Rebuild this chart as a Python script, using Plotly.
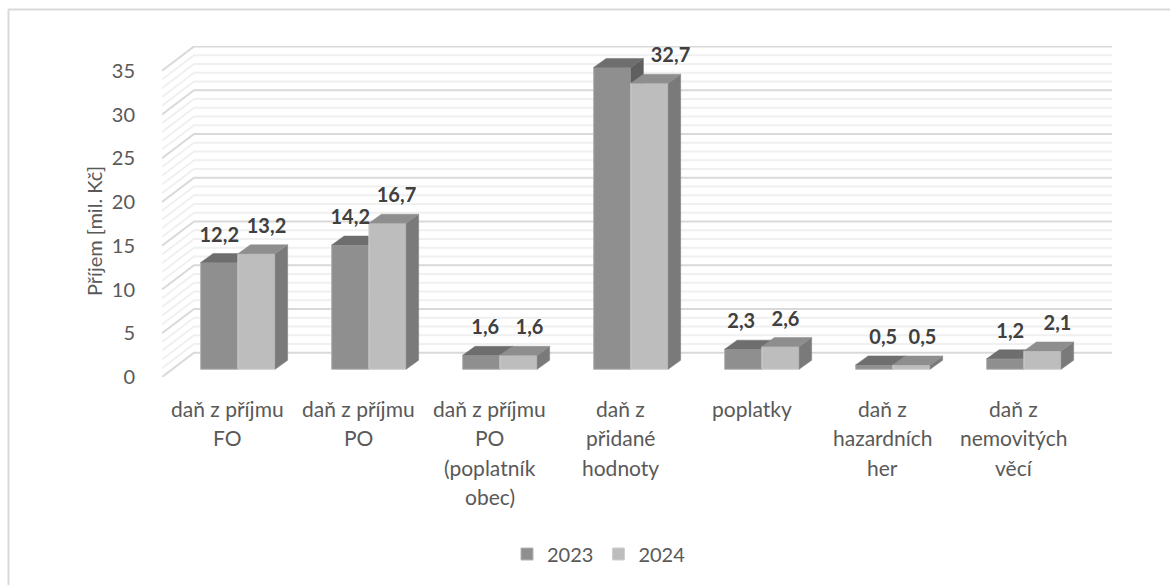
import plotly.graph_objects as go

# --- data -------------------------------------------------------------
categories = [
    ["daň z příjmu", "FO"],
    ["daň z příjmu", "PO"],
    ["daň z příjmu", "PO", "(poplatník", "obec)"],
    ["daň z", "přidané", "hodnoty"],
    ["poplatky"],
    ["daň z", "hazardních", "her"],
    ["daň z", "nemovitých", "věcí"],
]
series_names = ["2023", "2024"]
values_2023 = [12.2, 14.2, 1.6, 34.5, 2.3, 0.5, 1.2]
values_2024 = [13.2, 16.7, 1.6, 32.7, 2.6, 0.5, 2.1]
y_ticks = [0, 5, 10, 15, 20, 25, 30, 35]

# --- geometry (pixels of the chart, converted to axis units) ----------
W, H = 1170, 585
L, R, T, B = 162, 1112, 46, 377      # plot box
STEP = 131.0                         # px per category
PXV = 8.75                           # px per value unit
X0 = 227.5                           # px of category 0
BAR_W = 37.25 / STEP
C23 = (219.25 - X0) / STEP
C24 = (256.5 - X0) / STEP
DX = 12.5 / STEP                     # bar depth
DY = 9.0 / PXV
WALL_DX = 32 / STEP                  # floor depth
WALL_DY = 24.3 / PXV
BAR_ZERO = (377 - 369.3) / PXV       # bar baseline above the front axis zero

def px(x):
    return (x - L) / (R - L)

def py(y):
    return (B - y) / (B - T)

x_range = [(L - X0) / STEP, (R - X0) / STEP]
y_range_front = [0, (B - T) / PXV]
y_range_bars = [-BAR_ZERO, (B - T) / PXV - BAR_ZERO]

COL_FRONT = ["#8f8f8f", "#bdbdbd"]
COL_TOP = ["#6e6e6e", "#8e8e8e"]
COL_SIDE = ["#5f5f5f", "#7a7a7a"]
EDGE = ["#b4b4b4", "#cfcfcf"]
TXT = "#595959"
LBL = "#404040"
FONT = "Lato"

label_shift_px = [
    [0, 0, 4, 0, -2, 9, 5],
    [10, 9, 11, 21, 5, 11, 15],
]

fig = go.Figure()

# --- walls ------------------------------------------------------------
for v in range(0, 36):
    major = v % 5 == 0
    fig.add_trace(go.Scatter(
        x=[x_range[0], x_range[0] + WALL_DX, x_range[1]],
        y=[v, v + WALL_DY, v + WALL_DY],
        mode="lines", showlegend=False, hoverinfo="skip",
        line=dict(color="#d9d9d9" if major else "#f0f0f0", width=2),
        xaxis="x", yaxis="y",
    ))

# --- bars, one overlay pair of axes per series -----------------------
for s, (vals, c, xa, ya) in enumerate([
    (values_2023, C23, "x2", "y2"),
    (values_2024, C24, "x3", "y3"),
]):
    centers = [i + c for i in range(len(vals))]
    fig.add_trace(go.Bar(
        x=centers, y=vals, width=BAR_W, name=series_names[s],
        marker=dict(color=COL_FRONT[s], line=dict(color=EDGE[s], width=1)),
        xaxis=xa, yaxis=ya, hoverinfo="skip",
    ))
    for cx, v in zip(centers, vals):
        x0, x1 = cx - BAR_W / 2, cx + BAR_W / 2
        fig.add_trace(go.Scatter(
            x=[x1, x1 + DX, x1 + DX, x1, x1], y=[0, DY, v + DY, v, 0],
            fill="toself", fillcolor=COL_SIDE[s], mode="lines",
            line=dict(color=COL_SIDE[s], width=0.5),
            showlegend=False, hoverinfo="skip", xaxis=xa, yaxis=ya,
        ))
        fig.add_trace(go.Scatter(
            x=[x0, x1, x1 + DX, x0 + DX, x0], y=[v, v, v + DY, v + DY, v],
            fill="toself", fillcolor=COL_TOP[s], mode="lines",
            line=dict(color=COL_TOP[s], width=0.5),
            showlegend=False, hoverinfo="skip", xaxis=xa, yaxis=ya,
        ))

# --- data labels ------------------------------------------------------
for s, (vals, c) in enumerate([(values_2023, C23), (values_2024, C24)]):
    fig.add_trace(go.Scatter(
        x=[i + c + label_shift_px[s][i] / STEP for i in range(len(vals))],
        y=[v + 2.95 for v in vals],
        text=[f"{v:.1f}".replace(".", ",") for v in vals],
        mode="text", textposition="middle center",
        textfont=dict(family=FONT, size=20, color=LBL, weight="bold"),
        showlegend=False, hoverinfo="skip", xaxis="x3", yaxis="y3",
        cliponaxis=False,
    ))

# --- category labels, one annotation per line (29.5 px line pitch) ----
ann = []
for i, lines in enumerate(categories):
    for j, line in enumerate(lines):
        ann.append(dict(
            x=i, xref="x", y=py(408 + 29.5 * j), yref="paper", text=line,
            showarrow=False, xanchor="center", yanchor="middle",
            font=dict(family=FONT, size=21, color=TXT),
        ))
ann.append(dict(
    x=px(94), xref="paper", y=py(231), yref="paper", yanchor="middle",
    xanchor="center", text="Příjem [mil. Kč]", textangle=-90, showarrow=False,
    font=dict(family=FONT, size=20, color=TXT),
))

hidden = dict(visible=False, fixedrange=True)
fig.update_layout(
    width=W, height=H, autosize=False,
    margin=dict(l=L, r=W - R, t=T, b=H - B, pad=0),
    paper_bgcolor="white", plot_bgcolor="rgba(0,0,0,0)",
    barmode="overlay", annotations=ann,
    xaxis=dict(range=x_range, showgrid=False, zeroline=False, showline=False,
               showticklabels=False, ticks="", fixedrange=True),
    yaxis=dict(range=y_range_front, tickmode="array", tickvals=y_ticks,
               ticktext=[str(t) for t in y_ticks], showgrid=False,
               zeroline=False, showline=False, ticks="outside", ticklen=22,
               tickcolor="rgba(0,0,0,0)", fixedrange=True,
               tickfont=dict(family=FONT, size=20, color=TXT)),
    xaxis2=dict(range=x_range, overlaying="x", **hidden),
    yaxis2=dict(range=y_range_bars, overlaying="y", **hidden),
    xaxis3=dict(range=x_range, overlaying="x", **hidden),
    yaxis3=dict(range=y_range_bars, overlaying="y", **hidden),
    legend=dict(orientation="h", x=px(599), xanchor="center", y=py(554),
                yanchor="middle", font=dict(family=FONT, size=20, color=TXT),
                itemwidth=30, bgcolor="rgba(0,0,0,0)"),
    shapes=[
        dict(type="line", xref="paper", yref="paper", x0=px(8), x1=px(W),
             y0=py(9.5), y1=py(9.5), line=dict(color="#d9d9d9", width=2)),
        dict(type="line", xref="paper", yref="paper", x0=px(8.5), x1=px(8.5),
             y0=py(H), y1=py(9), line=dict(color="#d9d9d9", width=2)),
    ],
)

fig.write_html("out.html", config=dict(displayModeBar=False),
               post_script="document.body.style.margin='0';document.body.style.overflow='hidden';")
